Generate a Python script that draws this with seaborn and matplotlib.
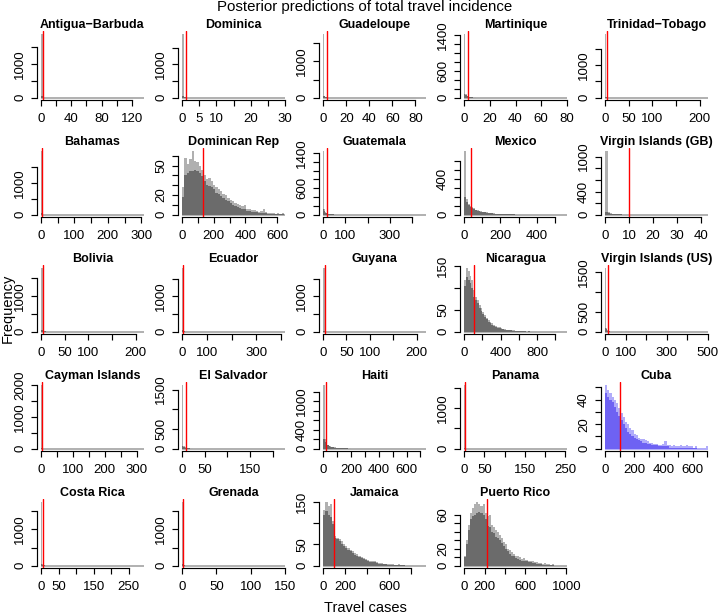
import numpy as np
import matplotlib
matplotlib.use("Agg")
import matplotlib.pyplot as plt
import seaborn as sns

# panel order (row by row, 5 per row)
NAMES = ["Antigua−Barbuda", "Dominica", "Guadeloupe", "Martinique", "Trinidad−Tobago",
         "Bahamas", "Dominican Rep", "Guatemala", "Mexico", "Virgin Islands (GB)",
         "Bolivia", "Ecuador", "Guyana", "Nicaragua", "Virgin Islands (US)",
         "Cayman Islands", "El Salvador", "Haiti", "Panama", "Cuba",
         "Costa Rica", "Grenada", "Jamaica", "Puerto Rico"]
OBSERVED = [2, 1, 3, 3, 3, 2, 130, 17, 38, 10, 5, 3, 3, 110, 12, 2, 8, 24, 1, 100, 4, 2, 100, 220]
XMAX = [136, 30, 89, 80, 217, 308, 650, 462, 565, 43, 217, 415, 220, 1127, 500,
        323, 227, 739, 254, 703, 293, 150, 934, 1005]
BIN_WIDTH = [2, 0.5, 1, 1, 2, 3, 15, 5, 10, 1, 5, 4, 3, 20, 5, 2, 3, 10, 1, 15, 3, 1.5, 20, 20]

XTICK_STEP = [20, 5, 20, 20, 50, 50, 100, 100, 100, 10, 50, 100, 50, 200, 100,
              50, 50, 100, 50, 100, 50, 50, 200, 200]
XTICK_END = [120, 30, 80, 80, 200, 300, 600, 400, 500, 40, 200, 400, 200, 1000, 500,
             300, 200, 700, 250, 700, 250, 150, 800, 1000]
XLABELLED = [[0, 40, 80, 120], [0, 5, 10, 20, 30], [0, 20, 40, 60, 80], [0, 20, 40, 60, 80],
             [0, 50, 100, 200], [0, 100, 200, 300], [0, 200, 400, 600], [0, 100, 300],
             [0, 200, 400], [0, 10, 20, 30, 40], [0, 50, 100, 200], [0, 100, 300],
             [0, 50, 100, 200], [0, 400, 800], [0, 100, 300, 500], [0, 100, 200, 300],
             [0, 50, 150], [0, 200, 400, 600], [0, 50, 150, 250], [0, 200, 400, 600],
             [0, 50, 150, 250], [0, 50, 100, 150], [0, 200, 600], [0, 200, 600, 1000]]
YTICK_STEP = [500, 500, 500, 200, 500, 500, 10, 200, 100, 200, 500, 500, 500, 50, 500,
              500, 500, 200, 500, 10, 500, 500, 50, 10]
YTICK_END = [1500, 1500, 1500, 1400, 1500, 1500, 60, 1400, 600, 1000, 1500, 1500, 1500, 150, 1500,
             2000, 1500, 1200, 1500, 50, 1500, 1500, 150, 60]
YLABELLED = [[0, 1000], [0, 1000], [0, 1000], [0, 600, 1400], [0, 1000],
             [0, 1000], [0, 20, 50], [0, 600, 1400], [0, 400], [0, 400, 1000],
             [0, 1000], [0, 1000], [0, 1000], [0, 50, 150], [0, 500, 1500],
             [0, 1000, 2000], [0, 500, 1500], [0, 400, 1000], [0, 1000], [0, 20, 40],
             [0, 1000], [0, 1000], [0, 50, 150], [0, 20, 60]]

# histogram counts: full bar heights (light) and overlapping body (dark)
antigua_top = [1900, 25, 10, 6, 4, 3, 2, 2, 1, 1]
antigua_core = [60, 15, 6, 3, 2, 1, 1]
dominica_top = [1920, 20, 8, 4, 3, 2]
dominica_core = [40, 8, 3, 2, 1, 1]
guadeloupe_top = [1760, 60, 25, 12, 8, 5, 4, 3, 2, 2, 1, 1]
guadeloupe_core = [60, 40, 15, 8, 5, 3, 2, 2, 1, 1]
martinique_top = [1420, 90, 45, 30, 20, 14, 10, 8, 6, 5, 4, 4, 3, 3, 2, 2, 2, 1, 1, 1]
martinique_core = [90, 60, 30, 20, 14, 10, 7, 5, 4, 3, 3, 2, 2, 2, 1, 1, 1, 1]
trinidad_top = [1950, 20, 8, 5, 3, 2, 1, 1]
trinidad_core = [30, 10, 4, 2, 1, 1]
bahamas_top = [2000, 30, 12, 7, 5, 3, 2, 2, 1, 1]
bahamas_core = [40, 15, 6, 3, 2, 1, 1]
domrep_top = [28, 58, 52, 57, 65, 55, 54, 50, 46, 40, 36, 37, 34, 30, 28, 26, 24, 21, 20, 17,
              15, 14, 12, 11, 10, 9, 10, 6, 6, 5, 5, 4, 3, 4, 6, 3, 2, 2, 2, 1, 2, 1, 2]
domrep_core = [18, 40, 42, 44, 45, 46, 44, 42, 39, 34, 30, 29, 28, 26, 22, 21, 19, 17, 15, 14,
               12, 10, 9, 8, 7, 6, 6, 4, 4, 3, 3, 3, 2, 2, 2, 2, 1, 1, 1, 1, 1, 1, 1]
guatemala_top = [1450, 130, 60, 35, 25, 18, 14, 11, 9, 8, 7, 6, 5, 4, 4, 3, 3, 2, 2, 2]
guatemala_core = [130, 90, 50, 30, 20, 15, 11, 9, 7, 6, 5, 4, 4, 3, 3, 2, 2, 2, 1, 1]
mexico_top = [710, 170, 120, 100, 85, 70, 58, 50, 45, 40, 35, 30, 27, 23, 20, 17, 15, 13, 12, 10,
              9, 8, 7, 6, 6, 5, 4, 3, 3, 2]
mexico_core = [200, 140, 105, 90, 75, 60, 50, 45, 40, 35, 30, 27, 24, 20, 17, 15, 13, 11, 10, 9,
               8, 7, 6, 5, 5, 4, 3, 3, 2, 2]
vigb_top = [1100, 55, 30, 20, 14, 10, 8, 6, 5, 4, 3, 3, 2, 2, 2, 1, 1, 1, 1, 1]
vigb_core = [50, 35, 20, 14, 10, 7, 5, 4, 3, 3, 2, 2, 1, 1, 1, 1]
bolivia_top = [1780, 25, 10, 6, 4, 3, 2, 2, 1, 1]
bolivia_core = [40, 12, 6, 3, 2, 1, 1]
ecuador_top = [1800, 40, 15, 8, 5, 4, 3, 2, 2, 1]
ecuador_core = [40, 25, 10, 5, 3, 2, 2, 1, 1, 1]
guyana_top = [1800, 20, 8, 5, 3, 2, 2, 1]
guyana_core = [30, 10, 5, 3, 2, 1]
nicaragua_top = [118, 146, 138, 128, 118, 95, 80, 72, 62, 54, 45, 38, 32, 27, 22, 19, 16, 13, 11, 10,
                 8, 7, 6, 5, 4, 4, 3, 3, 2, 2, 2, 1, 1, 2, 1, 1, 1, 1, 1, 1]
nicaragua_core = [105, 125, 118, 112, 100, 80, 72, 65, 55, 47, 40, 33, 28, 23, 19, 16, 13, 11, 9, 8,
                  7, 6, 5, 4, 3, 3, 2, 2, 2, 1, 1, 1, 1, 1, 0, 1, 0, 0, 0, 0]
vius_top = [1600, 100, 40, 20, 12, 8, 6, 5, 4, 3, 3, 2, 2, 2, 1, 1, 1, 1]
vius_core = [100, 60, 25, 14, 9, 6, 5, 4, 3, 2, 2, 2, 1, 1, 1, 1]
cayman_top = [2000, 20, 8, 5, 3, 2, 1, 1]
cayman_core = [30, 10, 4, 2, 1, 1]
salvador_top = [1620, 80, 35, 25, 18, 12, 9, 7, 5, 4, 3, 3, 2, 2, 1, 1]
salvador_core = [80, 45, 28, 18, 12, 9, 6, 5, 4, 3, 2, 2, 1, 1, 1, 1]
haiti_top = [1350, 200, 120, 85, 65, 50, 40, 33, 28, 24, 20, 17, 15, 13, 11, 10, 9, 8, 7, 6,
             5, 5, 4, 4, 3, 3, 3, 2, 2, 2]
haiti_core = [200, 150, 100, 75, 55, 42, 35, 28, 24, 20, 17, 14, 12, 11, 9, 8, 7, 6, 5, 5,
              4, 4, 3, 3, 2, 2, 2, 2, 1, 1]
panama_top = [1570, 15, 6, 3, 2, 1, 1]
panama_core = [25, 8, 3, 2, 1]
cuba_top = [52, 48, 45, 42, 40, 37, 33, 29, 26, 22, 20, 17, 15, 12, 11, 9, 8, 8, 7, 6,
            5, 5, 4, 4, 3, 3, 4, 6, 3, 3, 2, 3, 2, 2, 3, 2, 2, 3, 2, 2, 1, 2, 1, 1, 1, 1, 2]
cuba_core = [45, 42, 40, 38, 34, 30, 27, 23, 20, 17, 14, 12, 10, 9, 8, 7, 6, 5, 5, 4,
             4, 3, 3, 3, 2, 2, 2, 2, 2, 1, 1, 1, 1, 1, 1, 1, 1, 1, 1, 1, 1, 1, 0, 0, 0, 0, 0]
costarica_top = [1760, 50, 20, 12, 8, 6, 5, 4, 3, 3, 2, 2, 2, 1, 1, 1]
costarica_core = [50, 30, 14, 9, 6, 4, 3, 3, 2, 2, 1, 1, 1, 1]
grenada_top = [1760, 40, 15, 8, 5, 3, 2, 2, 1, 1]
grenada_core = [40, 20, 8, 4, 3, 2, 1, 1]
jamaica_top = [130, 150, 140, 145, 105, 70, 66, 62, 58, 50, 46, 42, 38, 34, 30, 27, 24, 21, 18, 16,
               13, 11, 10, 12, 9, 7, 6, 5, 4, 4, 3, 3, 2, 2, 3, 2, 1, 1, 1, 1, 1]
jamaica_core = [120, 128, 118, 115, 98, 66, 62, 58, 52, 46, 42, 38, 34, 30, 26, 23, 20, 18, 15, 13,
                11, 9, 8, 8, 7, 5, 4, 4, 3, 2, 2, 2, 1, 1, 1, 1, 1, 0, 0, 0, 0]
puertorico_top = [12, 30, 48, 62, 68, 72, 75, 73, 70, 72, 62, 58, 60, 48, 45, 42, 40, 36, 32, 28,
                  25, 20, 18, 16, 14, 12, 11, 10, 8, 9, 7, 6, 5, 5, 4, 4, 3, 3, 2, 3,
                  2, 2, 1, 2, 1, 1, 1, 1, 1, 1]
puertorico_core = [10, 25, 42, 55, 58, 60, 62, 63, 62, 60, 55, 47, 45, 40, 38, 34, 32, 30, 27, 23,
                   20, 17, 14, 12, 11, 9, 8, 7, 6, 6, 5, 4, 4, 3, 3, 2, 2, 2, 1, 1,
                   1, 1, 1, 1, 0, 0, 0, 0, 0, 0]

TOP_COUNTS = [antigua_top, dominica_top, guadeloupe_top, martinique_top, trinidad_top,
              bahamas_top, domrep_top, guatemala_top, mexico_top, vigb_top,
              bolivia_top, ecuador_top, guyana_top, nicaragua_top, vius_top,
              cayman_top, salvador_top, haiti_top, panama_top, cuba_top,
              costarica_top, grenada_top, jamaica_top, puertorico_top]
CORE_COUNTS = [antigua_core, dominica_core, guadeloupe_core, martinique_core, trinidad_core,
               bahamas_core, domrep_core, guatemala_core, mexico_core, vigb_core,
               bolivia_core, ecuador_core, guyana_core, nicaragua_core, vius_core,
               cayman_core, salvador_core, haiti_core, panama_core, cuba_core,
               costarica_core, grenada_core, jamaica_core, puertorico_core]

GREY_LIGHT, GREY_DARK = "#b0b0b0", "#6b6b6b"
BLUE_LIGHT, BLUE_DARK = "#b1acfa", "#6e62f3"

sns.set_style("ticks")
plt.rcParams["font.family"] = ["Liberation Sans", "DejaVu Sans"]
plt.rcParams.update({"text.color": "black", "axes.labelcolor": "black",
                     "xtick.color": "black", "ytick.color": "black"})

W, H = 718, 614
fig = plt.figure(figsize=(W / 100, H / 100), dpi=100)


def tick_labels(ticks, labelled):
    return [f"{v:g}" if np.any(np.isclose(v, labelled)) else "" for v in ticks]


for i, name in enumerate(NAMES):
    r, c = divmod(i, 5)
    ax = fig.add_axes([(37 + 141 * c) / W, 1 - (100.3 + 117 * r) / H, 111 / W, 69 / H])
    top, core = TOP_COUNTS[i], CORE_COUNTS[i]
    w = BIN_WIDTH[i]
    edges = np.arange(len(top) + 1) * w
    centers = edges[:-1] + w / 2
    light, dark = (BLUE_LIGHT, BLUE_DARK) if name == "Cuba" else (GREY_LIGHT, GREY_DARK)

    ax.hlines(0, 0, XMAX[i], color=light, lw=1.4, zorder=1)
    sns.histplot(x=centers, weights=top, bins=edges.tolist(), color=light, alpha=1,
                 linewidth=0, ax=ax, zorder=2)
    sns.histplot(x=centers[:len(core)], weights=core, bins=edges.tolist(), color=dark, alpha=1,
                 linewidth=0, ax=ax, zorder=3)
    ax.axvline(OBSERVED[i], color="red", lw=1.0, zorder=4)

    xmax, ymax = XMAX[i], max(top)
    ax.set_xlim(-0.04 * xmax, 1.04 * xmax)
    ax.set_ylim(-0.04 * ymax, 1.04 * ymax)

    xt = np.arange(0, XTICK_END[i] + XTICK_STEP[i] / 2, XTICK_STEP[i])
    yt = np.arange(0, YTICK_END[i] + YTICK_STEP[i] / 2, YTICK_STEP[i])
    ax.set_xticks(xt)
    ax.set_xticklabels(tick_labels(xt, XLABELLED[i]))
    ax.set_yticks(yt)
    ax.set_yticklabels(tick_labels(yt, YLABELLED[i]), rotation=90, va="center")

    sns.despine(ax=ax)
    ax.spines["bottom"].set_bounds(0, XTICK_END[i])
    ax.spines["left"].set_bounds(0, YTICK_END[i])
    for s in ("bottom", "left"):
        ax.spines[s].set_linewidth(0.85)
        ax.spines[s].set_color("black")
    ax.tick_params(axis="both", length=4.5, width=0.85, color="black", labelsize=9.5)
    ax.tick_params(axis="x", pad=4.6)
    ax.tick_params(axis="y", pad=3.3)
    ax.set_xlabel("")
    ax.set_ylabel("")
    ax.set_title(name, fontsize=9, fontweight="bold", pad=2)

fig.text(0.508, 1 - 10.5 / H, "Posterior predictions of total travel incidence",
         ha="center", va="baseline", fontsize=10.8)
fig.text(7.5 / W, 1 - 308 / H, "Frequency", rotation=90, ha="center", va="center", fontsize=10.5)
fig.text(365 / W, 1 - 612 / H, "Travel cases", ha="center", va="baseline", fontsize=10.5)

fig.savefig("out.png", dpi=100)
